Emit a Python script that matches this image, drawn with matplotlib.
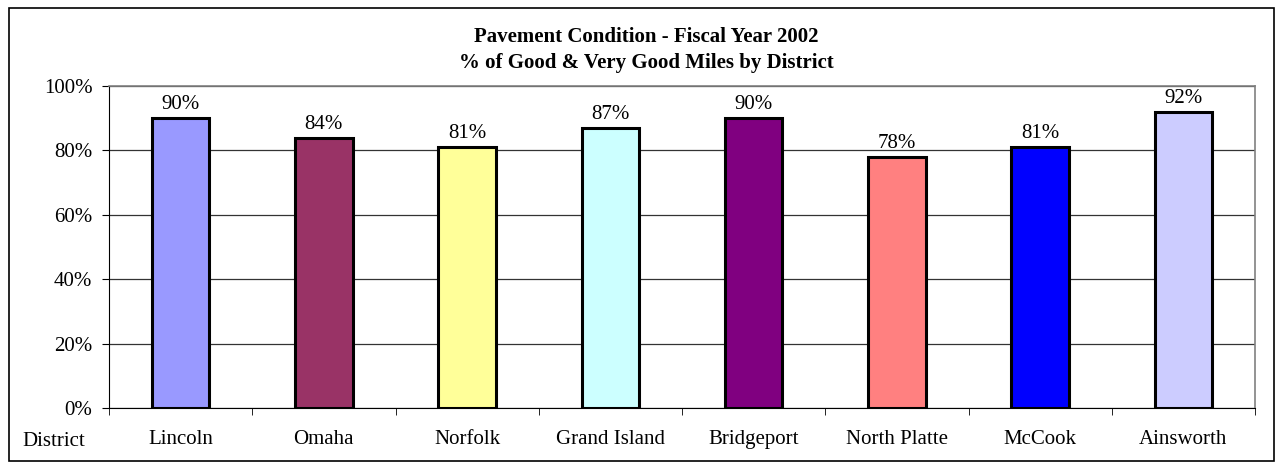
import numpy as np
import matplotlib.pyplot as plt
from matplotlib.patches import Rectangle
from matplotlib.ticker import FixedLocator

# Datos
districts = ['Lincoln', 'Omaha', 'Norfolk', 'Grand Island', 'Bridgeport',
             'North Platte', 'McCook', 'Ainsworth']
pct_good = [90, 84, 81, 87, 90, 78, 81, 92]
bar_colors = ['#9999FF', '#993366', '#FFFF99', '#CCFFFF', '#800080',
              '#FF8080', '#0000FF', '#CCCCFF']
y_ticks = [0, 20, 40, 60, 80, 100]

plt.rcParams['font.family'] = ['Liberation Serif', 'DejaVu Serif']
fs = 15

fig = plt.figure(figsize=(12.84, 4.68), dpi=100)
# marco exterior
fig.patches.append(Rectangle((9/1284, 1 - 461/468), 1265/1284, 453/468,
                             transform=fig.transFigure, fill=False,
                             edgecolor='black', linewidth=1.2))

ax = fig.add_axes([109/1284, 1 - 408/468, 1146/1284, 322/468])
x = np.arange(len(districts))
ax.bar(x, pct_good, width=0.4, color=bar_colors, edgecolor='black',
       linewidth=2.2, zorder=3)
for xi, v in zip(x, pct_good):
    ax.text(xi, v + 1.2, f'{v}%', ha='center', va='bottom', fontsize=fs)

ax.set_xlim(-0.5, len(districts) - 0.5)
ax.set_ylim(0, 100)
ax.set_yticks(y_ticks)
ax.set_yticklabels([f'{t}%' for t in y_ticks], fontsize=fs)
ax.yaxis.grid(True, color='#333333', linewidth=0.9, zorder=0)
ax.set_axisbelow(True)

ax.set_xticks(x)
ax.set_xticklabels(districts, fontsize=fs)
ax.tick_params(axis='x', which='major', length=0, pad=16)
ax.xaxis.set_minor_locator(FixedLocator(np.arange(-0.5, len(districts), 1)))
ax.tick_params(axis='x', which='minor', length=5, direction='out', color='black')
ax.tick_params(axis='y', length=5, direction='out', pad=7)

for s in ['top', 'right']:
    ax.spines[s].set_color('#808080')
    ax.spines[s].set_linewidth(1.2)
ax.spines['left'].set_color('black')
ax.spines['bottom'].set_color('black')

fig.text(54/1284, 1 - 441/468, 'District', ha='center', va='center', fontsize=fs)
fig.text(646/1284, 1 - 37/468, 'Pavement Condition - Fiscal Year 2002',
         ha='center', va='center', fontsize=15, fontweight='bold')
fig.text(646/1284, 1 - 63/468, '% of Good & Very Good Miles by District',
         ha='center', va='center', fontsize=15, fontweight='bold')

fig.savefig('out.png', dpi=100)
